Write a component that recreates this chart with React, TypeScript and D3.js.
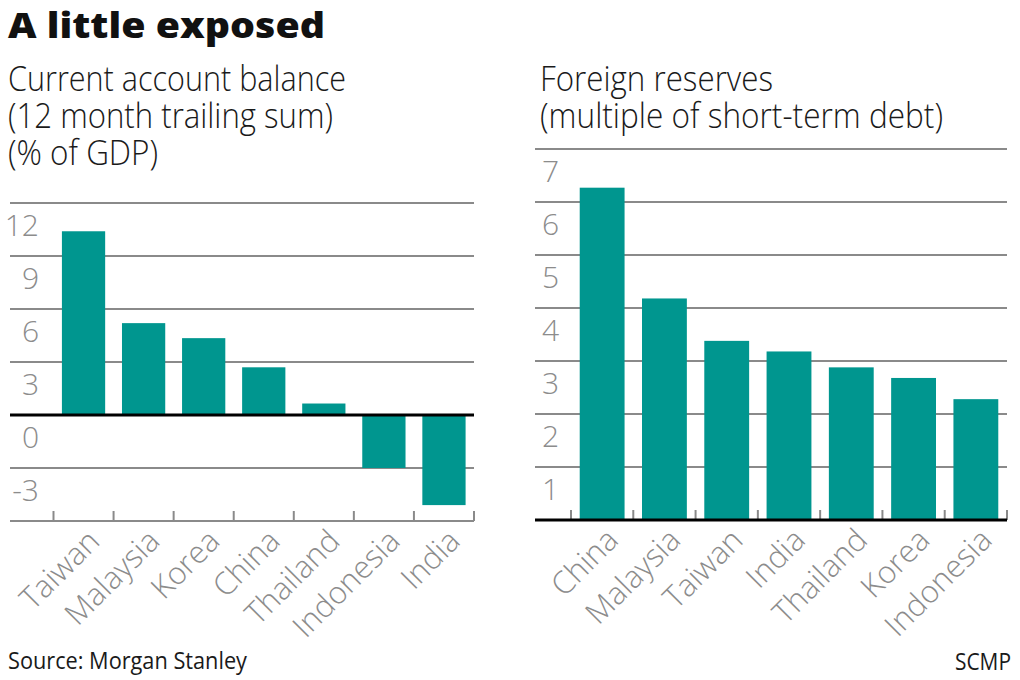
import React, { useEffect, useRef } from "react";
import * as d3 from "d3";

// left panel: current account balance, % of GDP
const caCountries = ["Taiwan", "Malaysia", "Korea", "China", "Thailand", "Indonesia", "India"];
const caValues = [10.4, 5.2, 4.35, 2.7, 0.65, -3.0, -5.1];
const caTicks = [12, 9, 6, 3, 0, -3];

// right panel: foreign reserves, multiple of short-term debt
const frCountries = ["China", "Malaysia", "Taiwan", "India", "Thailand", "Korea", "Indonesia"];
const frValues = [6.27, 4.18, 3.38, 3.18, 2.88, 2.68, 2.28];
const frTicks = [7, 6, 5, 4, 3, 2, 1];

const title = "A little exposed";
const leftSub = ["Current account balance", "(12 month trailing sum)", "(% of GDP)"];
const rightSub = ["Foreign reserves", "(multiple of short-term debt)"];

export default function App() {
  const ref = useRef(null);

  useEffect(() => {
    drawChart();
  }, []);

  function drawChart() {
    const width = 1020;
    const height = 680;
    const font = "'Open Sans', Roboto, sans-serif";
    const teal = "#00968f";
    const grid = "#8a8a8a";
    const labelColor = "#8c8c8c";
    const ink = "#1a1a1a";

    d3.select(ref.current).selectAll("*").remove();
    const svg = d3
      .select(ref.current)
      .append("svg")
      .attr("width", width)
      .attr("height", height)
      .style("position", "absolute")
      .style("left", 0)
      .style("top", 0)
      .style("font-family", font);

    svg.append("rect").attr("width", width).attr("height", height).attr("fill", "white");

    // squeeze a text to the width it has in the reference
    function fitText(sel, w) {
      sel.attr("textLength", w).attr("lengthAdjust", "spacingAndGlyphs");
    }

    // heading
    svg
      .append("text")
      .attr("x", 8)
      .attr("y", 38)
      .attr("font-size", 35)
      .attr("font-weight", 800)
      .attr("fill", "#111")
      .text(title)
      .call(fitText, 317);

    const leftW = [338, 325, 150];
    leftSub.forEach((t, i) => {
      svg
        .append("text")
        .attr("x", 8)
        .attr("y", 91 + i * 37)
        .attr("font-size", 34)
        .attr("font-weight", 300)
        .attr("fill", ink)
        .text(t)
        .call(fitText, leftW[i]);
    });
    const rightW = [233, 403];
    rightSub.forEach((t, i) => {
      svg
        .append("text")
        .attr("x", 540)
        .attr("y", 91 + i * 37)
        .attr("font-size", 34)
        .attr("font-weight", 300)
        .attr("fill", ink)
        .text(t)
        .call(fitText, rightW[i]);
    });

    function panel(cats, vals, ticks, opts) {
      const g = svg.append("g");
      const x = d3
        .scaleBand()
        .domain(cats)
        .range([opts.x0, opts.x1])
        .paddingInner(0.28)
        .paddingOuter(0.14);
      const y = d3.scaleLinear().domain(opts.domain).range([opts.bottom, opts.top]);

      // gridlines
      g.selectAll("line.grid")
        .data(d3.range(opts.domain[0], opts.domain[1] + 1, opts.step))
        .join("line")
        .attr("class", "grid")
        .attr("x1", opts.gx0)
        .attr("x2", opts.x1)
        .attr("y1", (d) => y(d))
        .attr("y2", (d) => y(d))
        .attr("stroke", grid)
        .attr("stroke-width", 2);

      // tick labels, sitting just under their gridline
      g.selectAll("text.ytick")
        .data(ticks)
        .join("text")
        .attr("class", "ytick")
        .attr("x", opts.labelX)
        .attr("y", (d) => y(d) + 33)
        .attr("text-anchor", "end")
        .attr("font-size", 30)
        .attr("font-weight", 300)
        .attr("fill", labelColor)
        .text((d) => d);

      // bars
      g.selectAll("rect.bar")
        .data(vals)
        .join("rect")
        .attr("class", "bar")
        .attr("x", (d, i) => x(cats[i]))
        .attr("width", x.bandwidth())
        .attr("y", (d) => y(Math.max(0, d)))
        .attr("height", (d) => Math.abs(y(d) - y(0)))
        .attr("fill", teal);

      // small ticks at band edges
      const gap = (x.step() - x.bandwidth()) / 2;
      const edges = cats.map((c) => x(c) - gap).concat([opts.x1]);
      g.selectAll("line.xtick")
        .data(edges)
        .join("line")
        .attr("class", "xtick")
        .attr("x1", (d) => d)
        .attr("x2", (d) => d)
        .attr("y1", opts.bottom)
        .attr("y2", opts.bottom - 10)
        .attr("stroke", grid)
        .attr("stroke-width", 2);

      // zero line
      g.append("line")
        .attr("x1", opts.gx0)
        .attr("x2", opts.x1)
        .attr("y1", y(0))
        .attr("y2", y(0))
        .attr("stroke", "#000")
        .attr("stroke-width", 3);

      // category labels
      g.selectAll("text.cat")
        .data(cats)
        .join("text")
        .attr("class", "cat")
        .attr("transform", (d) => `translate(${x(d) + x.bandwidth() / 2 + 18},${opts.bottom + 22}) rotate(-45)`)
        .attr("text-anchor", "end")
        .attr("font-size", 31)
        .attr("font-weight", 300)
        .attr("fill", labelColor)
        .text((d) => d);
    }

    panel(caCountries, caValues, caTicks, {
      x0: 53.5,
      x1: 474,
      gx0: 10,
      labelX: 39,
      domain: [-6, 12],
      step: 3,
      top: 203,
      bottom: 521,
    });

    panel(frCountries, frValues, frTicks, {
      x0: 571,
      x1: 1007,
      gx0: 535,
      labelX: 559,
      domain: [0, 7],
      step: 1,
      top: 149,
      bottom: 520,
    });

    // footer
    svg
      .append("text")
      .attr("x", 8)
      .attr("y", 669)
      .attr("font-size", 24)
      .attr("fill", ink)
      .text("Source: Morgan Stanley")
      .call(fitText, 239);
    svg
      .append("text")
      .attr("x", 955)
      .attr("y", 670)
      .attr("font-size", 24)
      .attr("fill", ink)
      .text("SCMP")
      .call(fitText, 56);
  }

  return <div ref={ref}></div>;
}
